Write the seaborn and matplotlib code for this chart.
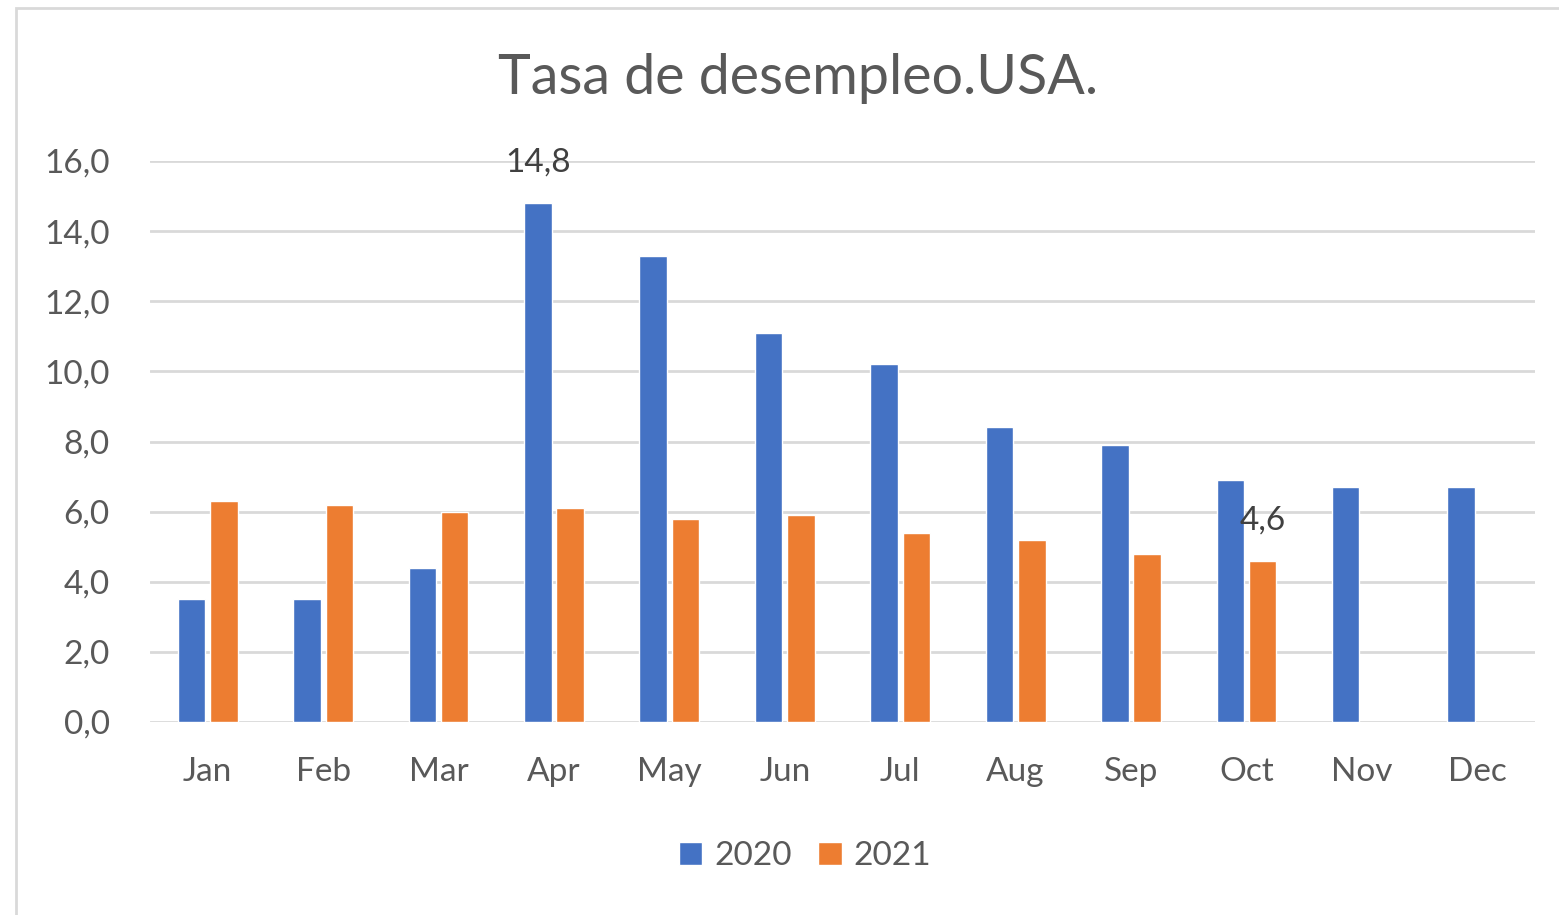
import matplotlib
matplotlib.use("Agg")
import matplotlib.pyplot as plt
import pandas as pd
import seaborn as sns
from matplotlib.patches import Rectangle
from matplotlib.ticker import FuncFormatter

months = ["Jan", "Feb", "Mar", "Apr", "May", "Jun",
          "Jul", "Aug", "Sep", "Oct", "Nov", "Dec"]
rate_2020 = [3.5, 3.5, 4.4, 14.8, 13.3, 11.1, 10.2, 8.4, 7.9, 6.9, 6.7, 6.7]
rate_2021 = [6.3, 6.2, 6.0, 6.1, 5.8, 5.9, 5.4, 5.2, 4.8, 4.6]
years = ["2020", "2021"]
colors = ["#4472C4", "#ED7D31"]

rows = []
for m, v in zip(months, rate_2020):
    rows.append({"mes": m, "año": "2020", "tasa": v})
for m, v in zip(months, rate_2021):
    rows.append({"mes": m, "año": "2021", "tasa": v})
df = pd.DataFrame(rows)

sns.set_theme(style="white")
plt.rcParams["font.family"] = ["Lato", "DejaVu Sans"]

fig = plt.figure(figsize=(15.59, 9.15), dpi=100)
ax = fig.add_axes([150 / 1559, 1 - 722 / 915, 1385 / 1559, 561 / 915])

sns.barplot(data=df, x="mes", y="tasa", hue="año", order=months,
            hue_order=years, palette=colors, width=0.56, gap=0.15,
            saturation=1, ax=ax, legend=True)

ax.set_ylim(0, 16)
ax.set_xlim(-0.5, 11.5)
ax.set_yticks(range(0, 17, 2))
ax.yaxis.set_major_formatter(FuncFormatter(lambda v, p: f"{v:.1f}".replace(".", ",")))
ax.grid(axis="y", color="#D9D9D9", linewidth=2)
ax.set_axisbelow(True)
for s in ax.spines.values():
    s.set_visible(False)
ax.tick_params(axis="both", length=0, labelsize=24, labelcolor="#595959")
ax.tick_params(axis="y", pad=29)
ax.tick_params(axis="x", pad=25)
ax.set_xlabel("")
ax.set_ylabel("")

# data labels (only the two shown in the chart)
blue_bars = ax.containers[0]
orange_bars = ax.containers[1]
for bars, idx, vals in [(blue_bars, 3, rate_2020), (orange_bars, 9, rate_2021)]:
    b = bars[idx]
    ax.text(b.get_x() + b.get_width() / 2, b.get_height() + 1.15,
            f"{vals[idx]:.1f}".replace(".", ","), ha="center", va="center",
            fontsize=24, color="#404040")

fig.text(0.512, 1 - 78 / 915, "Tasa de desempleo.USA.", ha="center", va="center",
         fontsize=40, color="#595959")

leg = ax.legend(loc="center", bbox_to_anchor=(805 / 1559, 1 - 856 / 915),
                bbox_transform=fig.transFigure, ncol=2, frameon=False,
                fontsize=24, handlelength=0.7, handleheight=0.7,
                handletextpad=0.35, columnspacing=0.8)
for t in leg.get_texts():
    t.set_color("#595959")

fig.patches.append(Rectangle((16 / 1559, -0.05), 1.2, 1 - 8 / 915 + 0.05,
                             transform=fig.transFigure, fill=False,
                             edgecolor="#D9D9D9", linewidth=2))

fig.savefig("out.png", dpi=100)
